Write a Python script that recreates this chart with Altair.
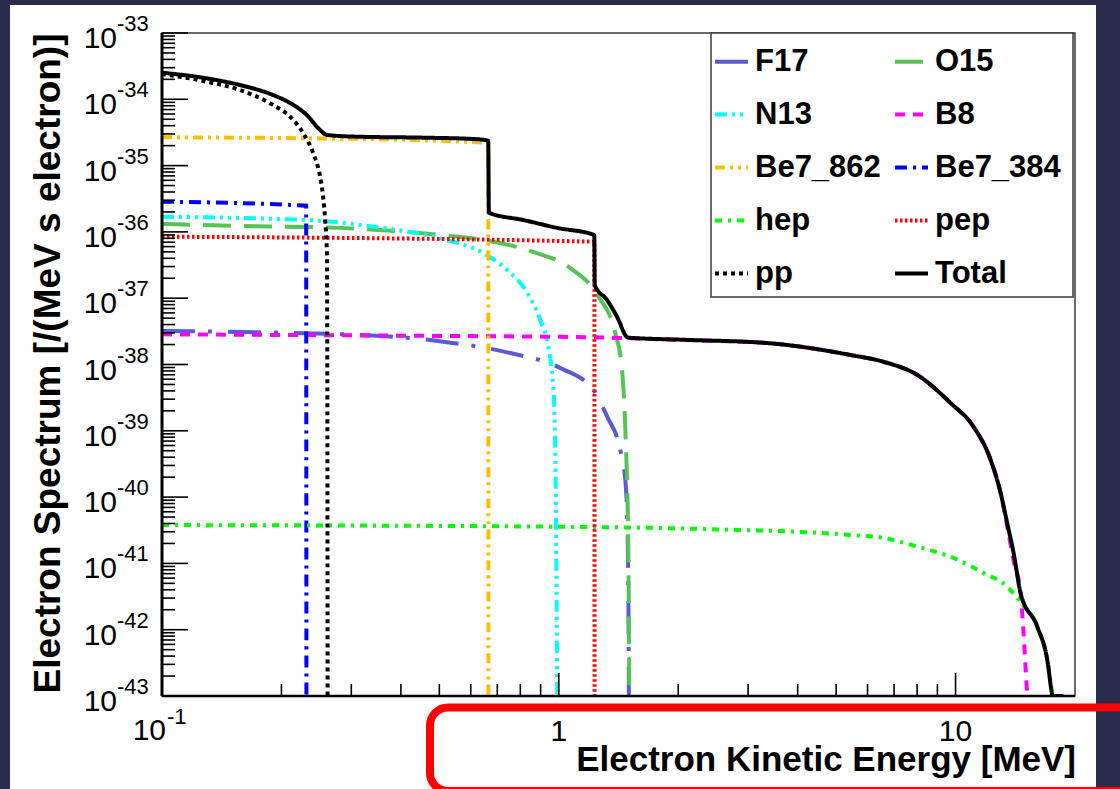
import altair as alt
import pandas as pd

# ---------------- spectra: electron kinetic energy [MeV] vs rate [/(MeV s electron)] ----------------
F17_E = [0.1, 0.3158, 0.5114, 0.7547, 1.0088, 1.222, 1.326, 1.429, 1.4714, 1.488, 1.4973, 1.502]
F17_S = [3.2e-38, 2.79e-38, 2.21e-38, 1.49e-38, 8.85e-39, 4.12e-39, 1.61e-39, 5.13e-40, 1.81e-40, 4.52e-41, 4.41e-42, 1e-43]

O15_E = [0.1, 0.1573, 0.2812, 0.5025, 0.645, 0.8623, 1.069, 1.251, 1.388, 1.4414, 1.4714, 1.4973, 1.506]
O15_S = [1.32e-36, 1.23e-36, 1.15e-36, 8.98e-37, 7.55e-37, 4.98e-37, 2.85e-37, 1.12e-37, 2.98e-38, 9.16e-39, 1.03e-39, 1.59e-41, 1e-43]

N13_E = [0.1, 0.2317, 0.3405, 0.5025, 0.645, 0.7415, 0.8329, 0.898, 0.9408, 0.9685, 0.98, 0.9914]
N13_S = [1.69e-36, 1.51e-36, 1.20e-36, 8.0e-37, 4.81e-37, 2.66e-37, 1.2e-37, 4.69e-38, 1.84e-38, 4.58e-39, 4.62e-40, 1e-43]

B8_E = [0.1, 0.398, 1.222, 2.06, 3.34, 5.44, 6.58, 8.01, 9.71, 11.10, 12.26, 12.99, 13.50, 14.0, 14.58, 14.84, 15.16, 15.19]
B8_S = [2.85e-38, 2.72e-38, 2.57e-38, 2.34e-38, 2.11e-38, 1.39e-38, 1.10e-38, 6.95e-39, 2.63e-39, 1.15e-39,
        3.63e-40, 1.15e-40, 3.58e-41, 1.12e-41, 3.58e-42, 8.9e-43, 1.11e-43, 1e-43]

Be7_862_E = [0.1, 0.2317, 0.664, 0.665]
Be7_862_S = [2.67e-35, 2.58e-35, 2.21e-35, 1e-43]

Be7_384_E = [0.1, 0.2308, 0.2312]
Be7_384_S = [2.86e-36, 2.48e-36, 1e-43]

hep_E = [0.1, 0.952, 2.275, 5.44, 6.58, 8.01, 9.71, 11.77, 13.50, 14.58, 16.07, 17.03, 17.53]
hep_S = [3.79e-41, 3.58e-41, 3.31e-41, 2.68e-41, 2.42e-41, 1.79e-41, 1.26e-41, 7.16e-42, 4.46e-42, 2.6e-42,
         1.11e-42, 3.49e-43, 1.04e-43]

pep_E = [0.1, 1.229, 1.231]
pep_S = [8.47e-37, 7.11e-37, 1e-43]

pp_E = [0.1, 0.1297, 0.1573, 0.1905, 0.2103, 0.2268, 0.2403, 0.2503, 0.2547, 0.2577, 0.2603, 0.2607, 0.2611, 0.2614]
pp_S = [2.41e-34, 1.84e-34, 1.38e-34, 8.2e-35, 5.47e-35, 3.10e-35, 1.55e-35, 6.8e-36, 3.4e-36, 1.51e-36,
        4.8e-37, 1.05e-37, 2.9e-39, 1e-43]

Total_E = [0.1, 0.1297, 0.1573, 0.1905, 0.2103, 0.2317, 0.2503, 0.2603, 0.3097, 0.455, 0.609, 0.664, 0.6665,
           0.814, 0.99, 1.229, 1.232, 1.323, 1.402, 1.495, 2.06, 3.34, 5.44, 6.58, 8.01, 9.71, 11.10, 12.26,
           12.99, 13.50, 14.0, 14.58, 16.07, 17.03, 17.53, 17.56, 18.7]
Total_S = [2.52e-34, 2.07e-34, 1.64e-34, 1.16e-34, 8.8e-35, 5.8e-35, 3.44e-35, 2.9e-35, 2.73e-35, 2.64e-35,
           2.52e-35, 2.38e-35, 1.95e-36, 1.51e-36, 1.15e-36, 8.98e-37, 1.58e-37, 9.4e-38, 5.26e-38, 2.54e-38,
           2.36e-38, 2.11e-38, 1.39e-38, 1.10e-38, 6.95e-39, 2.63e-39, 1.15e-39, 3.63e-40, 1.15e-40, 4.0e-41,
           1.45e-41, 3.6e-42, 1.11e-42, 3.49e-43, 1.04e-43, 1e-43, 1e-43]

SERIES = ["F17", "O15", "N13", "B8", "Be7_862", "Be7_384", "hep", "pep", "pp", "Total"]
CURVES = {
    "F17": (F17_E, F17_S), "O15": (O15_E, O15_S), "N13": (N13_E, N13_S), "B8": (B8_E, B8_S),
    "Be7_862": (Be7_862_E, Be7_862_S), "Be7_384": (Be7_384_E, Be7_384_S), "hep": (hep_E, hep_S),
    "pep": (pep_E, pep_S), "pp": (pp_E, pp_S), "Total": (Total_E, Total_S),
}

# axis decorations
Y_DECADES = list(range(-43, -32))              # 1e-43 ... 1e-33
X_MAJOR = [1, 10]
X_LABELS = [1, 10]

# line styles per source
COLORS = ["#5a5ad4", "#55c455", "#00ffff", "#ff00ff", "#ffbf00", "#0000ff", "#00ff00", "#ff0000", "#000000", "#000000"]
DASHES = [[33, 13, 4, 16], [28, 13], [12, 5, 3, 5, 3, 5, 3, 5], [10, 8], [10, 5, 3, 5, 3, 5],
          [12, 6, 3, 6], [7, 6, 3, 6], [2.5, 2.5], [4, 4], [1, 0]]
WIDTHS = [4, 4, 3, 4, 3, 3, 3.5, 3, 5, 3]

FONT = "Liberation Sans"
W, H = 913, 663

rows = []
for name in SERIES:
    es, ss = CURVES[name]
    for i, (e, s) in enumerate(zip(es, ss)):
        rows.append({"series": name, "E": e, "S": s, "idx": i})
curves = pd.DataFrame(rows)

xs = alt.Scale(type="log", domain=[0.1, 20], nice=False)
ys = alt.Scale(type="log", domain=[1e-43, 1e-33], nice=False)

legend = alt.Legend(
    title=None, orient="none", legendX=551, legendY=10, columns=2, direction="horizontal",
    symbolType="stroke", symbolSize=1089, labelFont=FONT, labelFontSize=31, labelFontWeight="bold",
    labelColor="#000000", labelOffset=5, rowPadding=19, columnPadding=6, padding=0,
    symbolLimit=0, labelLimit=300,
)
enc = dict(
    x=alt.X("E:Q", scale=xs, axis=None),
    y=alt.Y("S:Q", scale=ys, axis=None),
    color=alt.Color("series:N", scale=alt.Scale(domain=SERIES, range=COLORS), legend=legend),
    strokeDash=alt.StrokeDash("series:N", scale=alt.Scale(domain=SERIES, range=DASHES), legend=legend),
    strokeWidth=alt.StrokeWidth("series:N", scale=alt.Scale(domain=SERIES, range=WIDTHS), legend=legend),
    order=alt.Order("idx:Q"),
)

one = pd.DataFrame({"k": [0]})

# white slide panel, plot frame and highlight box
panel = alt.Chart(one).mark_rect(fill="#ffffff").encode(
    x=alt.value(-152), x2=alt.value(934), y=alt.value(-28), y2=alt.value(770))
frame = alt.Chart(one).mark_rect(fillOpacity=0, stroke="#3a3a3a", strokeWidth=1.5).encode(
    x=alt.value(0), x2=alt.value(W), y=alt.value(0), y2=alt.value(H))
legend_box = alt.Chart(one).mark_rect(fill="#ffffff", stroke="#3a3a3a", strokeWidth=1.5).encode(
    x=alt.value(549), x2=alt.value(911), y=alt.value(0), y2=alt.value(264))
axis_lines = alt.layer(
    alt.Chart(one).mark_rule(color="#000000", strokeWidth=3).encode(x=alt.value(0), y=alt.value(0), y2=alt.value(H)),
    alt.Chart(one).mark_rule(color="#000000", strokeWidth=2.5).encode(x=alt.value(0), x2=alt.value(W), y=alt.value(H)),
)

# tick marks drawn inward through the log scales
y_major = pd.DataFrame({"v": [10.0 ** d for d in Y_DECADES]})
y_minor = pd.DataFrame({"v": [k * 10.0 ** d for d in Y_DECADES[:-1] for k in range(2, 10)]})
x_major = pd.DataFrame({"v": X_MAJOR})
x_minor = pd.DataFrame({"v": [k * 10.0 ** d for d in (-1, 0) for k in range(2, 10)]})

ticks = alt.layer(
    alt.Chart(y_major).mark_rule(color="#000000", strokeWidth=1.6).encode(
        y=alt.Y("v:Q", scale=ys, axis=None), x=alt.value(0), x2=alt.value(26)),
    alt.Chart(y_minor).mark_rule(color="#000000", strokeWidth=1.6).encode(
        y=alt.Y("v:Q", scale=ys, axis=None), x=alt.value(0), x2=alt.value(13)),
    alt.Chart(x_major).mark_rule(color="#000000", strokeWidth=1.6).encode(
        x=alt.X("v:Q", scale=xs, axis=None), y=alt.value(H), y2=alt.value(H - 23)),
    alt.Chart(x_minor).mark_rule(color="#000000", strokeWidth=1.6).encode(
        x=alt.X("v:Q", scale=xs, axis=None), y=alt.value(H), y2=alt.value(H - 12)),
)

# tick labels: "10" with a raised exponent
y_lab = pd.DataFrame({"v": [10.0 ** d for d in Y_DECADES], "exp": [str(d) for d in Y_DECADES]})
y_base = alt.Chart(y_lab).mark_text(font=FONT, fontSize=30, align="right", baseline="alphabetic", dy=15, color="#000000").encode(
    y=alt.Y("v:Q", scale=ys, axis=None), x=alt.value(-45), text=alt.value("10"))
y_exp = alt.Chart(y_lab).mark_text(font=FONT, fontSize=22, align="left", baseline="alphabetic", dy=-2, color="#000000").encode(
    y=alt.Y("v:Q", scale=ys, axis=None), x=alt.value(-45), text="exp:N")

x_lab = pd.DataFrame({"v": X_LABELS, "t": [str(v) for v in X_LABELS]})
x_low = pd.DataFrame({"v": [0.1], "exp": ["-1"]})
x_text = alt.Chart(x_lab).mark_text(font=FONT, fontSize=30, align="center", baseline="alphabetic", dy=45, color="#000000").encode(
    x=alt.X("v:Q", scale=xs, axis=None), y=alt.value(H), text="t:N")
x_low_base = alt.Chart(x_low).mark_text(font=FONT, fontSize=30, align="right", baseline="alphabetic", dx=4, dy=44, color="#000000").encode(
    x=alt.X("v:Q", scale=xs, axis=None), y=alt.value(H), text=alt.value("10"))
x_low_exp = alt.Chart(x_low).mark_text(font=FONT, fontSize=22, align="left", baseline="alphabetic", dx=5, dy=28, color="#000000").encode(
    x=alt.X("v:Q", scale=xs, axis=None), y=alt.value(H), text="exp:N")

# axis titles
x_title = alt.Chart(one).mark_text(font=FONT, fontSize=35, fontWeight="bold", align="right", baseline="alphabetic", color="#000000").encode(
    x=alt.value(W + 1), y=alt.value(738), text=alt.value("Electron Kinetic Energy [MeV]"))
y_title = alt.Chart(one).mark_text(font=FONT, fontSize=37, fontWeight="bold", align="center", baseline="alphabetic", angle=270, color="#000000").encode(
    x=alt.value(-102), y=alt.value(H / 2 - 1), text=alt.value("Electron Spectrum [/(MeV s electron)]"))

highlight = alt.Chart(one).mark_rect(fillOpacity=0, stroke="#ff0000", strokeWidth=8, cornerRadius=18).encode(
    x=alt.value(268), x2=alt.value(990), y=alt.value(674.5), y2=alt.value(758))

components = alt.Chart(curves[curves.series != "Total"]).mark_line(
    clip=True, strokeCap="butt", interpolate="monotone").encode(**enc)
total = alt.Chart(curves[curves.series == "Total"]).mark_line(
    clip=True, strokeCap="butt", interpolate="monotone").encode(**enc)

chart = alt.layer(
    panel, frame, legend_box, components, total, axis_lines, ticks,
    y_base, y_exp, x_text, x_low_base, x_low_exp, x_title, y_title, highlight,
).resolve_scale(x="shared", y="shared").properties(
    width=W, height=H,
    padding={"left": 162, "top": 33, "right": 45, "bottom": 93},
    autosize=alt.AutoSizeParams(type="none"),
    background="#2a2a4b",
).configure_view(strokeWidth=0)

chart.save("out.html", embed_options={"renderer": "svg", "actions": False})
